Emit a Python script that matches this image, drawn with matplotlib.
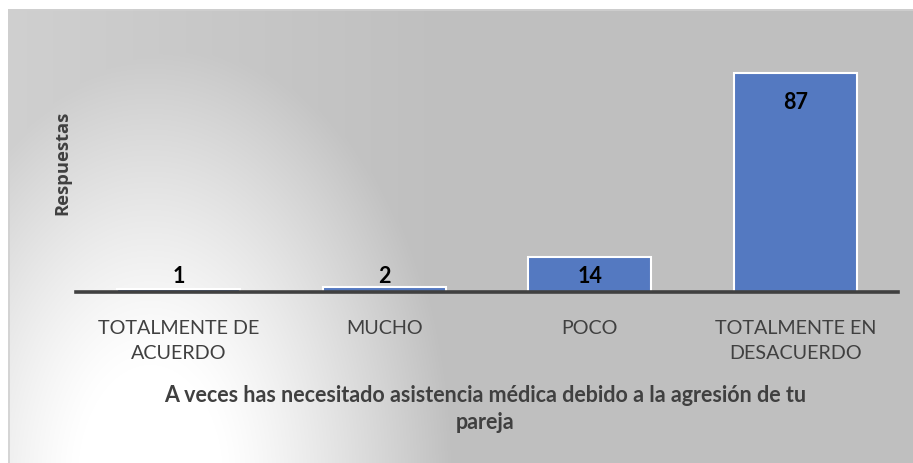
import numpy as np
import matplotlib
matplotlib.use("Agg")
import matplotlib.pyplot as plt

categories = ["TOTALMENTE DE\nACUERDO", "MUCHO", "POCO", "TOTALMENTE EN\nDESACUERDO"]
values = [1, 2, 14, 87]
x_title = "A veces has necesitado asistencia médica debido a la agresión de tu\npareja"
y_title = "Respuestas"

W, H = 913, 464
fig = plt.figure(figsize=(W / 100, H / 100), dpi=100)

# background gradient
bg = fig.add_axes([0, 0, 1, 1])
yy, xx = np.mgrid[0:H, 0:W]
r = np.sqrt(((xx - 150) / 330.0) ** 2 + ((yy - 480) / 520.0) ** 2)
t = np.clip((r - 0.22) / 0.7, 0, 1) ** 1.2
g = 255 - (255 - 191) * t
lin = 208 - (208 - 191) * np.clip(xx / 450.0, 0, 1)
g = np.maximum(g, lin) / 255.0
img = np.dstack([g, g, g])
img[:10, :, :] = 1.0
img[:, :8, :] = 1.0
bg.imshow(img, extent=[0, W, H, 0], aspect="auto", interpolation="bilinear")
bg.plot([8.5, 8.5, W], [H, 10.5, 10.5], color="#d0d0d0", lw=1.2)
bg.set_xlim(0, W)
bg.set_ylim(H, 0)
bg.axis("off")

# main axes
left, right = 76, 898
base, top = 293, 41.3
ax = fig.add_axes([left / W, (H - base) / H, (right - left) / W, (base - top) / H])
ax.patch.set_alpha(0)
xpos = np.arange(len(categories))
ax.bar(xpos, values, width=0.6, color="#5479c1", edgecolor="white", linewidth=1.5, zorder=2)
ax.set_xlim(-0.5, len(categories) - 0.5)
ax.set_ylim(0, 100)
for s in ["top", "right", "left"]:
    ax.spines[s].set_visible(False)
ax.spines["bottom"].set_color("#404040")
ax.spines["bottom"].set_linewidth(2.6)
ax.spines["bottom"].set_zorder(3)
ax.set_yticks([])
ax.set_xticks(xpos)
ax.set_xticklabels(categories, fontsize=14.2, color="#404040", family="Lato", linespacing=1.55)
ax.tick_params(axis="x", length=0, pad=19.5)

for xi, v in zip(xpos, values):
    ly = max(v - 11.5, 6.8)
    ax.text(xi, ly - 0.3 * (v < 50), str(v), ha="center", va="center", fontsize=15.5,
            fontweight="bold", family="Lato", color="black", zorder=4)

fig.text(485 / W, 1 - 409 / H, x_title, ha="center", va="center", fontsize=15.5,
         fontweight="bold", family="Lato", color="#404040", linespacing=1.35)
fig.text(62 / W, 1 - 163 / H, y_title, ha="center", va="center", rotation=90,
         fontsize=13.2, fontweight="bold", family="Open Sans", color="#404040")

fig.savefig("out.png", dpi=100)
